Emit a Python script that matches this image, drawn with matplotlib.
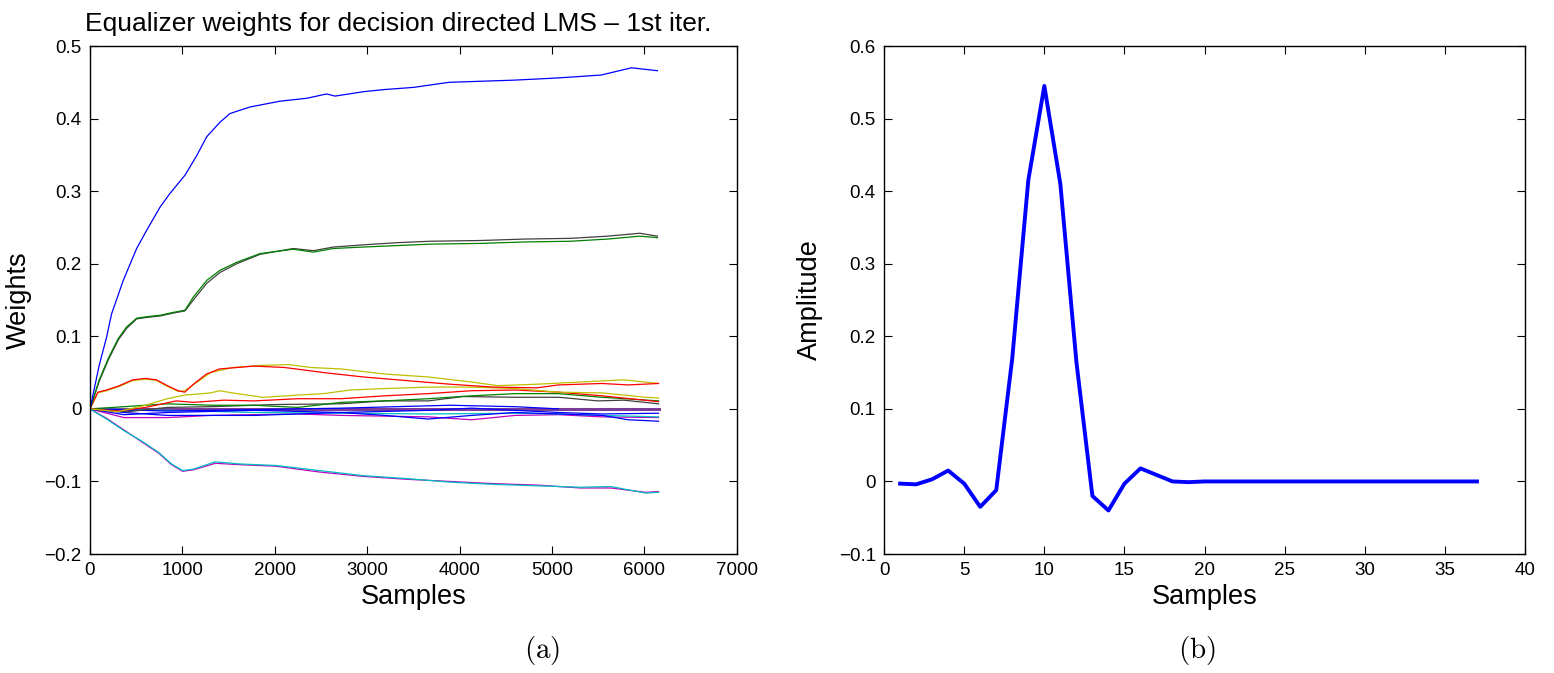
import matplotlib
matplotlib.use('Agg')
import matplotlib.pyplot as plt
import numpy as np

plt.rcParams['font.family'] = ['Liberation Sans', 'DejaVu Sans']
plt.rcParams['mathtext.fontset'] = 'cm'

# ---- (a) equalizer weight traces (samples, weight) ----
blue_top_x = [0, 100, 180, 234, 360, 505, 613, 758, 866, 1028, 1155, 1263, 1407, 1515, 1732,
              2056, 2345, 2561, 2651, 2955, 3180, 3500, 3885, 4590, 5060, 5530, 5860, 6140]
blue_top_y = [0, 0.06, 0.099, 0.131, 0.177, 0.221, 0.246, 0.278, 0.297, 0.322, 0.349, 0.375, 0.395,
              0.407, 0.416, 0.424, 0.428, 0.434, 0.431, 0.437, 0.440, 0.443, 0.450, 0.453, 0.456,
              0.460, 0.470, 0.466]

green_top_x = [0, 100, 200, 306, 397, 505, 613, 758, 902, 1028, 1118, 1263, 1407, 1588, 1840,
               2200, 2417, 2633, 2955, 3320, 3680, 4220, 4700, 5200, 5600, 5950, 6140]
green_top_y = [0, 0.04, 0.07, 0.097, 0.113, 0.125, 0.127, 0.129, 0.133, 0.136, 0.154, 0.177, 0.191,
               0.202, 0.214, 0.220, 0.216, 0.221, 0.223, 0.225, 0.227, 0.228, 0.230, 0.231, 0.234,
               0.238, 0.236]
gray_top_y = [0, 0.038, 0.068, 0.095, 0.111, 0.124, 0.126, 0.128, 0.132, 0.135, 0.150, 0.173, 0.188,
              0.200, 0.213, 0.221, 0.218, 0.223, 0.226, 0.229, 0.231, 0.232, 0.234, 0.235, 0.238,
              0.242, 0.238]

red_hi_x = [0, 85, 179, 320, 461, 602, 720, 837, 955, 1025, 1120, 1260, 1400, 1778, 2107, 2530,
            2954, 3424, 3895, 4365, 4835, 5070, 5541, 5823, 6152]
red_hi_y = [0, 0.023, 0.026, 0.032, 0.040, 0.042, 0.040, 0.032, 0.025, 0.023, 0.034, 0.048, 0.055,
            0.059, 0.057, 0.050, 0.044, 0.039, 0.034, 0.030, 0.029, 0.033, 0.035, 0.033, 0.035]

yellow_hi_x = [0, 85, 179, 320, 461, 602, 720, 837, 955, 1025, 1307, 1543, 1871, 2154, 2390, 2719,
               3190, 3660, 4130, 4412, 4835, 5306, 5776, 6152]
yellow_hi_y = [0, 0.022, 0.025, 0.031, 0.039, 0.041, 0.039, 0.031, 0.024, 0.025, 0.050, 0.057, 0.060,
               0.061, 0.057, 0.055, 0.048, 0.044, 0.037, 0.032, 0.034, 0.037, 0.040, 0.035]

yellow_lo_x = [0, 300, 602, 837, 1025, 1307, 1400, 1590, 1871, 2248, 2530, 2813, 3190, 3660, 4130,
               4600, 5070, 5541, 6011, 6152]
yellow_lo_y = [0, -0.004, 0.005, 0.014, 0.019, 0.022, 0.025, 0.021, 0.016, 0.019, 0.021, 0.026, 0.028,
               0.030, 0.030, 0.028, 0.023, 0.022, 0.016, 0.015]

red_lo_x = [0, 300, 602, 932, 1120, 1449, 1778, 2248, 2719, 3190, 3660, 4130, 4600, 5070, 5541, 6152]
red_lo_y = [0, -0.003, 0.002, 0.011, 0.009, 0.012, 0.011, 0.014, 0.014, 0.018, 0.021, 0.025, 0.026,
            0.023, 0.018, 0.010]

green_lo_x = [0, 367, 837, 1307, 1778, 2248, 2719, 3190, 3660, 4130, 4600, 5070, 5541, 6152]
green_lo_y = [0, 0.003, 0.007, 0.005, 0.005, 0.002, 0.009, 0.011, 0.014, 0.018, 0.021, 0.021, 0.016,
              0.011]

gray_lo_x = [0, 400, 837, 1307, 2013, 2719, 3190, 3660, 4036, 4600, 5070, 5494, 5776, 6152]
gray_lo_y = [0, -0.004, 0.002, 0.003, 0.006, 0.007, 0.011, 0.011, 0.017, 0.016, 0.016, 0.011, 0.012,
             0.007]

blue_a_x = [0, 367, 837, 1307, 1778, 2248, 2719, 3190, 3660, 4130, 4600, 5070, 5541, 5823, 6152]
blue_a_y = [0, -0.005, -0.009, -0.009, -0.009, -0.007, -0.005, -0.009, -0.014, -0.009, -0.005,
            -0.007, -0.009, -0.015, -0.017]
blue_b_x = [0, 367, 837, 1778, 2719, 3660, 4130, 4600, 5070, 5541, 6152]
blue_b_y = [0, -0.008, -0.005, -0.002, -0.005, -0.002, 0.001, -0.002, -0.005, -0.007, -0.006]
blue_c_x = [0, 837, 1778, 2719, 3895, 4600, 5070]
blue_c_y = [0, -0.003, -0.001, 0.001, 0.005, 0.003, 0.0]

mag_lo_x = [0, 367, 837, 1307, 2248, 2719, 3660, 4130, 4600, 5070, 5541, 6152]
mag_lo_y = [0, -0.012, -0.012, -0.009, -0.007, -0.009, -0.011, -0.015, -0.009, -0.008, -0.011, -0.012]
cyan_lo_x = [0, 837, 1778, 2719, 3660, 4600, 5070, 5541, 6152]
cyan_lo_y = [0, -0.002, -0.005, -0.006, -0.007, -0.006, -0.007, -0.009, -0.011]

cyan_bot_x = [0, 179, 367, 555, 743, 884, 1002, 1120, 1355, 1637, 2013, 2483, 2954, 3424, 3895,
              4365, 4835, 5306, 5635, 6011, 6152]
cyan_bot_y = [0, -0.014, -0.030, -0.044, -0.060, -0.076, -0.085, -0.083, -0.073, -0.076, -0.078,
              -0.085, -0.092, -0.096, -0.101, -0.104, -0.106, -0.108, -0.107, -0.116, -0.115]
mag_bot_y = [0, -0.013, -0.029, -0.045, -0.061, -0.077, -0.086, -0.084, -0.075, -0.077, -0.079,
             -0.087, -0.093, -0.097, -0.100, -0.103, -0.105, -0.109, -0.109, -0.115, -0.114]

zero_x = [0, 6152]
zero_y = [0, 0]

# ---- (b) final equalizer impulse response ----
taps = list(range(1, 38))
amplitude = [-0.003, -0.004, 0.003, 0.015, -0.003, -0.035, -0.012, 0.17, 0.415, 0.545, 0.41, 0.165,
             -0.02, -0.04, -0.003, 0.018, 0.009, 0.0, -0.001] + [0.0] * 18

# MATLAB default short colour names
mb, mg, mr = (0, 0, 1), (0, 0.5, 0), (1, 0, 0)
mc, mm, my, mk = (0, 0.75, 0.75), (0.75, 0, 0.75), (0.75, 0.75, 0), (0.25, 0.25, 0.25)

fig = plt.figure(figsize=(15.54, 6.73), dpi=100)
ax1 = fig.add_axes([0.0579, 0.1768, 0.4163, 0.7548])
ax2 = fig.add_axes([0.5689, 0.1768, 0.4125, 0.7548])

lw = 0.9
ax1.plot(zero_x, zero_y, color='#7a3c98', lw=2.2)
traces = [
    (mag_lo_x, mag_lo_y, mm), (cyan_lo_x, cyan_lo_y, mc),
    (blue_c_x, blue_c_y, mb), (blue_b_x, blue_b_y, mb), (blue_a_x, blue_a_y, mb),
    (gray_lo_x, gray_lo_y, mk), (green_lo_x, green_lo_y, mg),
    (red_lo_x, red_lo_y, mr), (yellow_lo_x, yellow_lo_y, my),
    (yellow_hi_x, yellow_hi_y, my), (red_hi_x, red_hi_y, mr),
    (cyan_bot_x, mag_bot_y, mm), (cyan_bot_x, cyan_bot_y, mc),
    (green_top_x, gray_top_y, mk), (green_top_x, green_top_y, mg),
    (blue_top_x, blue_top_y, mb),
]
for xs, ys, c in traces:
    ax1.plot(xs, ys, color=c, lw=lw)

ax1.set_xlim(0, 7000)
ax1.set_ylim(-0.2, 0.5)
ax1.set_xticks(np.arange(0, 7001, 1000))
ax1.set_yticks(np.round(np.arange(-0.2, 0.51, 0.1), 1))
ax1.set_xlabel('Samples', fontsize=19.5, labelpad=3)
ax1.set_ylabel('Weights', fontsize=19.5, labelpad=9)
ax1.set_title('Equalizer weights for decision directed LMS \u2013 1st iter.', fontsize=19, pad=11, x=0.477)

ax2.plot(taps, amplitude, color=(0, 0, 1), lw=2.8)
ax2.set_xlim(0, 40)
ax2.set_ylim(-0.1, 0.6)
ax2.set_xticks(np.arange(0, 41, 5))
ax2.set_yticks(np.round(np.arange(-0.1, 0.61, 0.1), 1))
ax2.set_xlabel('Samples', fontsize=19.5, labelpad=3)
ax2.set_ylabel('Amplitude', fontsize=19.5, labelpad=11)

for ax in (ax1, ax2):
    ax.tick_params(direction='in', top=True, right=True, length=6, width=0.8, labelsize=13.5, pad=6)
    for s in ax.spines.values():
        s.set_linewidth(1.0)
    ax.yaxis.set_major_formatter(plt.FuncFormatter(lambda v, p: '0' if abs(v) < 1e-9 else f'{v:g}'.replace('-', '\u2212')))

fig.text(0.349, 0.009, r'$\mathrm{(a)}$', ha='center', va='bottom', fontsize=21)
fig.text(0.770, 0.009, r'$\mathrm{(b)}$', ha='center', va='bottom', fontsize=21)

fig.savefig('out.png', dpi=100)
